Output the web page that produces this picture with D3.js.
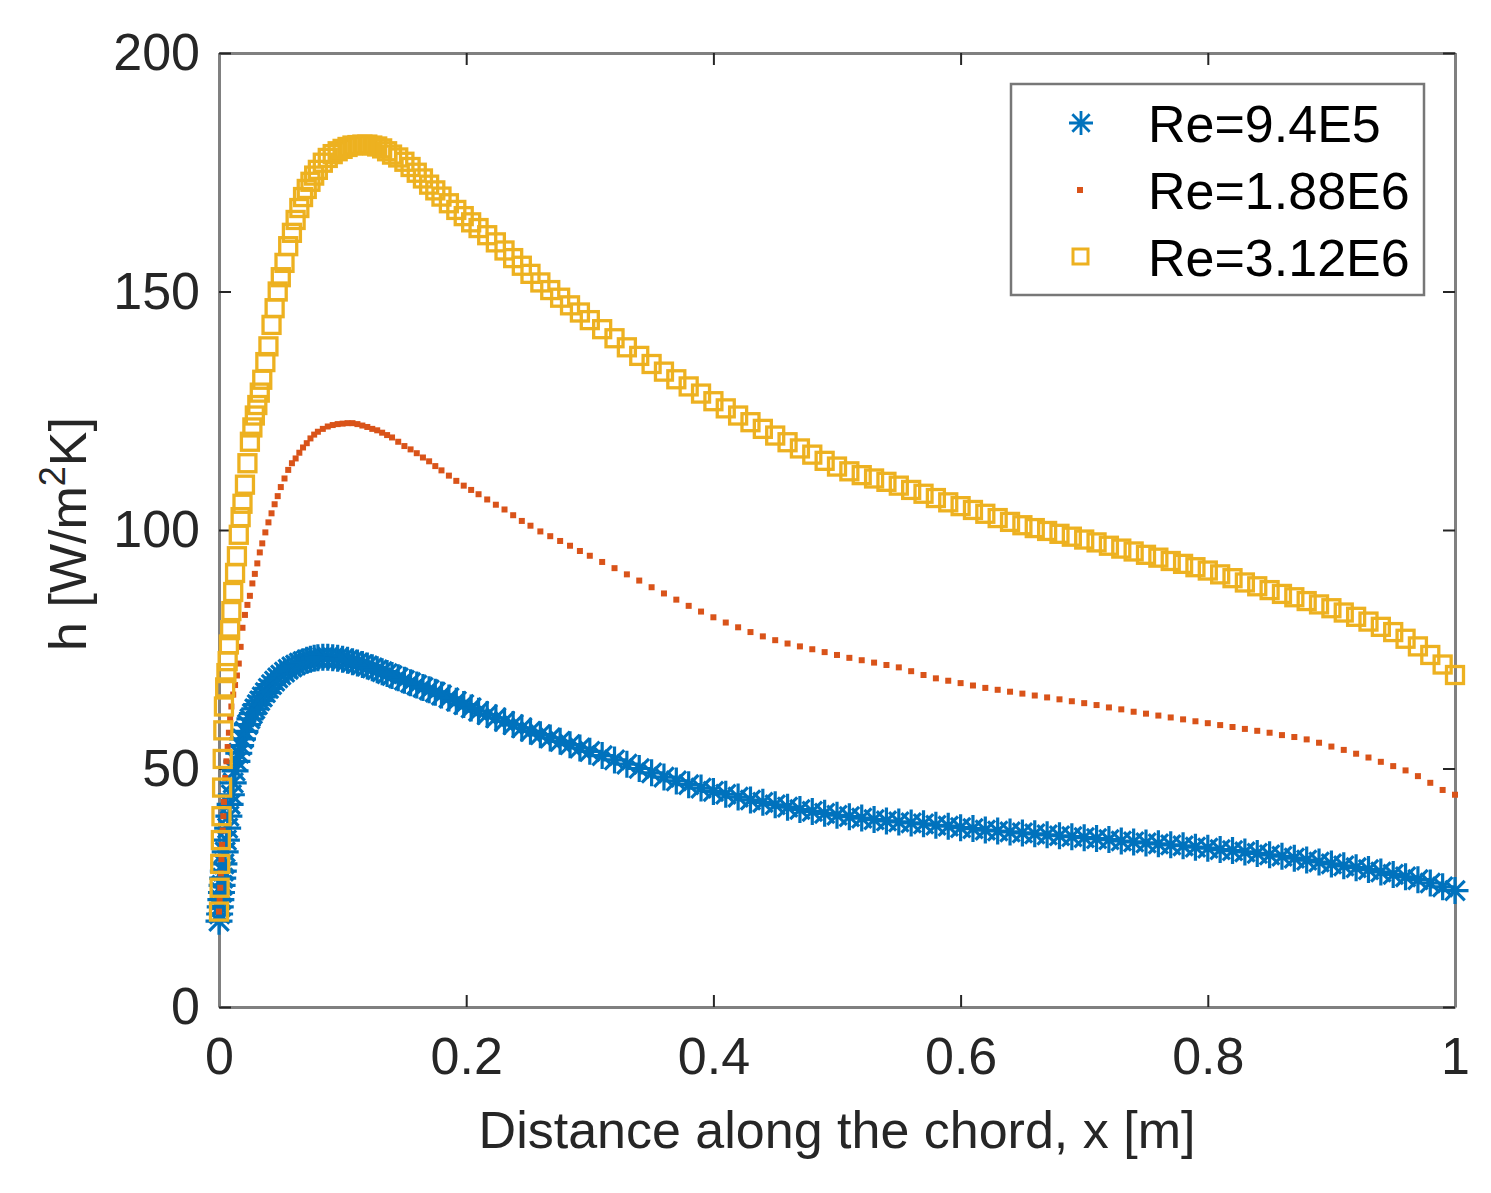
<!DOCTYPE html>
<html>
<head>
<meta charset="utf-8">
<script src="https://cdn.jsdelivr.net/npm/d3@7"></script>
<style>
body { margin: 0; background: #fff; }
</style>
</head>
<body>
<script>
// chordwise positions shared by the three runs (clustered at the leading edge)
var chordX = [
  0, 0.0005, 0.001, 0.0015, 0.002, 0.0025, 0.003, 0.0035, 0.004, 0.005,
  0.006, 0.007, 0.008, 0.009, 0.010, 0.0115, 0.013, 0.0145, 0.016, 0.0175,
  0.019, 0.021, 0.023, 0.025, 0.027, 0.029, 0.031, 0.033, 0.035, 0.0375,
  0.040, 0.0425, 0.045, 0.0475, 0.050, 0.053, 0.056, 0.059, 0.062, 0.065,
  0.068, 0.071, 0.074, 0.077, 0.080, 0.084, 0.088, 0.092, 0.096, 0.100,
  0.104, 0.108, 0.112, 0.116, 0.120, 0.124, 0.128, 0.132, 0.136, 0.140,
  0.145, 0.150, 0.155, 0.160, 0.165, 0.170, 0.175, 0.180, 0.186, 0.192,
  0.198, 0.204, 0.210, 0.217, 0.224, 0.231, 0.238, 0.245, 0.252, 0.260,
  0.268, 0.276, 0.284, 0.292, 0.300, 0.310, 0.320, 0.330, 0.340, 0.350,
  0.36, 0.37, 0.38, 0.39, 0.40, 0.41, 0.42, 0.43, 0.44, 0.45,
  0.46, 0.47, 0.48, 0.49, 0.50, 0.51, 0.52, 0.53, 0.54, 0.55,
  0.56, 0.57, 0.58, 0.59, 0.60, 0.61, 0.62, 0.63, 0.64, 0.65,
  0.66, 0.67, 0.68, 0.69, 0.70, 0.71, 0.72, 0.73, 0.74, 0.75,
  0.76, 0.77, 0.78, 0.79, 0.80, 0.81, 0.82, 0.83, 0.84, 0.85,
  0.86, 0.87, 0.88, 0.89, 0.90, 0.91, 0.92, 0.93, 0.94, 0.95,
  0.96, 0.97, 0.98, 0.99, 1.00
];

// h [W/m2K], Re = 9.4E5
var hRe940k = [
  18.0, 19.5, 21.0, 22.5, 24.0, 25.5, 27.0, 28.5, 30.0, 32.5,
  35.0, 37.5, 40.0, 42.5, 44.5, 47.0, 49.5, 51.5, 53.2, 54.8,
  56.2, 57.8, 59.2, 60.4, 61.5, 62.5, 63.4, 64.2, 65.0, 65.9,
  66.8, 67.6, 68.3, 69.0, 69.6, 70.2, 70.8, 71.3, 71.7, 72.1,
  72.4, 72.7, 72.9, 73.1, 73.2, 73.3, 73.3, 73.2, 73.1, 72.9,
  72.7, 72.4, 72.1, 71.8, 71.5, 71.1, 70.7, 70.3, 69.9, 69.5,
  69.0, 68.5, 68.0, 67.5, 67.0, 66.5, 66.0, 65.4, 64.8, 64.1,
  63.4, 62.7, 62.0, 61.3, 60.6, 59.9, 59.2, 58.5, 57.8, 57.1,
  56.4, 55.7, 55.0, 54.3, 53.6, 52.7, 51.8, 50.9, 50.0, 49.1,
  48.2, 47.4, 46.6, 45.9, 45.2, 44.6, 44.0, 43.4, 42.9, 42.4,
  41.9, 41.4, 41.0, 40.6, 40.2, 39.9, 39.6, 39.3, 39.0, 38.8,
  38.6, 38.4, 38.1, 37.9, 37.6, 37.4, 37.1, 36.9, 36.7, 36.5,
  36.3, 36.1, 35.9, 35.7, 35.5, 35.3, 35.1, 34.8, 34.6, 34.4,
  34.2, 34.0, 33.8, 33.5, 33.3, 33.0, 32.8, 32.5, 32.2, 31.9,
  31.6, 31.2, 30.8, 30.4, 30.0, 29.6, 29.2, 28.8, 28.3, 27.8,
  27.3, 26.7, 26.0, 25.2, 24.4
];

// h [W/m2K], Re = 1.88E6
var hRe188M = [
  20.0, 22.5, 25.0, 28.0, 31.0, 34.0, 37.0, 40.0, 43.0, 48.0,
  51.5, 54.5, 57.5, 60.5, 63.0, 65.5, 67.5, 69.5, 72.0, 75.5,
  79.5, 82.2, 84.3, 86.2, 88.8, 90.8, 93.0, 95.3, 97.2, 99.5,
  101.6, 103.5, 105.4, 107.1, 109.0, 110.8, 112.6, 114.0, 115.0, 116.2,
  117.3, 118.2, 119.2, 120.0, 120.6, 121.2, 121.7, 122.0, 122.2, 122.3,
  122.4, 122.4, 122.2, 121.9, 121.6, 121.2, 120.9, 120.4, 119.9, 119.4,
  118.5, 117.6, 116.9, 116.1, 115.2, 114.4, 113.4, 112.5, 111.4, 110.3,
  109.3, 108.4, 107.5, 106.4, 105.3, 104.3, 103.1, 101.9, 100.9, 99.7,
  98.7, 97.7, 96.7, 95.6, 94.6, 93.3, 92.0, 90.7, 89.4, 88.0,
  86.7, 85.4, 84.1, 82.9, 81.7, 80.6, 79.6, 78.6, 77.7, 76.9,
  76.2, 75.6, 75.0, 74.4, 73.8, 73.2, 72.7, 72.2, 71.7, 71.2,
  70.4, 69.6, 68.9, 68.4, 67.9, 67.4, 66.9, 66.5, 66.1, 65.7,
  65.3, 64.9, 64.5, 64.1, 63.7, 63.3, 62.8, 62.4, 61.9, 61.5,
  61.1, 60.7, 60.3, 59.9, 59.5, 59.1, 58.7, 58.3, 57.9, 57.5,
  57.0, 56.6, 56.1, 55.4, 54.6, 53.9, 53.1, 52.3, 51.4, 50.5,
  49.6, 48.4, 47.0, 45.5, 44.5
];

// h [W/m2K], Re = 3.12E6
var hRe312M = [
  20.0, 25.0, 30.0, 35.0, 40.0, 46.0, 52.0, 58.0, 63.0, 67.0,
  70.0, 72.5, 76.0, 79.0, 83.0, 87.0, 91.0, 94.5, 99.0, 102.7,
  105.5, 109.5, 114.0, 118.5, 121.5, 124.0, 126.2, 128.8, 131.5, 135.2,
  138.5, 143.0, 146.5, 150.0, 153.0, 156.0, 159.5, 162.3, 165.0, 167.5,
  169.8, 171.5, 173.0, 174.3, 175.5, 177.0, 178.0, 178.8, 179.4, 179.9,
  180.3, 180.6, 180.7, 180.8, 180.8, 180.6, 180.4, 180.0, 179.4, 178.7,
  178.1, 177.2, 176.1, 174.9, 173.7, 172.4, 171.2, 169.9, 168.5, 167.1,
  165.8, 164.5, 163.3, 161.8, 160.3, 158.6, 157.0, 155.4, 153.7, 151.9,
  150.3, 148.7, 147.1, 145.6, 144.0, 142.1, 140.2, 138.3, 136.5, 134.8,
  133.2, 131.6, 130.1, 128.6, 127.0, 125.5, 124.0, 122.6, 121.2, 119.8,
  118.4, 117.1, 115.8, 114.5, 113.3, 112.3, 111.5, 110.8, 110.1, 109.3,
  108.4, 107.6, 106.7, 105.8, 105.0, 104.2, 103.4, 102.5, 101.7, 101.0,
  100.4, 99.8, 99.2, 98.6, 98.0, 97.4, 96.7, 96.1, 95.5, 94.8,
  94.2, 93.5, 92.9, 92.2, 91.5, 90.7, 89.9, 89.0, 88.2, 87.4,
  86.6, 85.9, 85.1, 84.4, 83.6, 82.7, 81.8, 80.8, 79.7, 78.6,
  77.2, 75.6, 73.8, 71.8, 69.6
];

var xTicks = [0, 0.2, 0.4, 0.6, 0.8, 1];
var yTicks = [0, 50, 100, 150, 200];
var seriesNames = ["Re=9.4E5", "Re=1.88E6", "Re=3.12E6"];
var seriesColors = ["#0072BD", "#D95319", "#EDB120"];

var width = 1491;
var height = 1193;
var plotLeft = 219, plotRight = 1455, plotTop = 53, plotBottom = 1007;
var fontFam = '"Liberation Sans", Arial, Helvetica, sans-serif';

var svg = d3.select("body")
  .append("svg")
  .attr("width", width)
  .attr("height", height)
  .style("font-family", fontFam);

var x = d3.scaleLinear().domain([0, 1]).range([plotLeft, plotRight]);
var y = d3.scaleLinear().domain([0, 200]).range([plotBottom, plotTop]);

function styleAxis(g, showLabels) {
  g.attr("font-size", 52).attr("font-family", fontFam);
  g.select(".domain").attr("stroke", "#808080").attr("stroke-width", 3);
  g.selectAll(".tick line").attr("stroke", "#262626").attr("stroke-width", 2);
  g.selectAll(".tick text").attr("fill", "#262626");
  if (!showLabels) g.selectAll(".tick text").remove();
}

// axes (drawn under the data, like MATLAB's default layer)
svg.append("g")
  .attr("transform", "translate(0," + plotBottom + ")")
  .call(d3.axisBottom(x).tickValues(xTicks).tickFormat(d3.format("")).tickSizeInner(-12).tickSizeOuter(0).tickPadding(30))
  .call(styleAxis, true);
svg.append("g")
  .attr("transform", "translate(0," + plotTop + ")")
  .call(d3.axisTop(x).tickValues(xTicks).tickSizeInner(-12).tickSizeOuter(0))
  .call(styleAxis, false);
svg.append("g")
  .attr("transform", "translate(" + plotLeft + ",0)")
  .call(d3.axisLeft(y).tickValues(yTicks).tickFormat(d3.format("")).tickSizeInner(-12).tickSizeOuter(0).tickPadding(19))
  .call(styleAxis, true);
svg.append("g")
  .attr("transform", "translate(" + plotRight + ",0)")
  .call(d3.axisRight(y).tickValues(yTicks).tickSizeInner(-12).tickSizeOuter(0))
  .call(styleAxis, false);

// axis titles
svg.append("text")
  .attr("x", (plotLeft + plotRight) / 2)
  .attr("y", 1148)
  .attr("text-anchor", "middle")
  .attr("font-size", 52)
  .attr("fill", "#262626")
  .text("Distance along the chord, x [m]");

var yLab = svg.append("text")
  .attr("transform", "translate(86," + ((plotTop + plotBottom) / 2 + 4) + ") rotate(-90)")
  .attr("text-anchor", "middle")
  .attr("font-size", 52)
  .attr("fill", "#262626");
yLab.append("tspan").text("h [W/m");
yLab.append("tspan").attr("font-size", 36).attr("dy", -21).text("2");
yLab.append("tspan").attr("dy", 21).text("K]");

// marker shapes
function starPath(r) {
  var d = r * 0.72;
  return "M" + (-r) + ",0H" + r + "M0," + (-r) + "V" + r +
    "M" + (-d) + "," + (-d) + "L" + d + "," + d +
    "M" + (-d) + "," + d + "L" + d + "," + (-d);
}

var blueData = chordX.map(function (v, i) { return { x: v, h: hRe940k[i] }; });
var orangeData = chordX.map(function (v, i) { return { x: v, h: hRe188M[i] }; });
var yellowData = chordX.map(function (v, i) { return { x: v, h: hRe312M[i] }; });

svg.append("g").selectAll("path")
  .data(blueData)
  .enter()
  .append("path")
  .attr("transform", function (d) { return "translate(" + x(d.x) + "," + y(d.h) + ")"; })
  .attr("d", starPath(13.5))
  .attr("fill", "none")
  .attr("stroke", seriesColors[0])
  .attr("stroke-width", 3.2);

svg.append("g").selectAll("rect")
  .data(orangeData)
  .enter()
  .append("rect")
  .attr("x", function (d) { return x(d.x) - 3; })
  .attr("y", function (d) { return y(d.h) - 3; })
  .attr("width", 6)
  .attr("height", 6)
  .attr("fill", seriesColors[1]);

svg.append("g").selectAll("rect")
  .data(yellowData)
  .enter()
  .append("rect")
  .attr("x", function (d) { return x(d.x) - 8.5; })
  .attr("y", function (d) { return y(d.h) - 8.5; })
  .attr("width", 17)
  .attr("height", 17)
  .attr("fill", "none")
  .attr("stroke", seriesColors[2])
  .attr("stroke-width", 3.3);

// legend
var legend = svg.append("g");
legend.append("rect")
  .attr("x", 1011).attr("y", 84)
  .attr("width", 413).attr("height", 211)
  .attr("fill", "#fff")
  .attr("stroke", "#777")
  .attr("stroke-width", 2.5);

var rowY = [123, 190, 257];
legend.append("path")
  .attr("transform", "translate(1081," + rowY[0] + ")")
  .attr("d", starPath(12))
  .attr("fill", "none")
  .attr("stroke", seriesColors[0])
  .attr("stroke-width", 2.8);
legend.append("rect")
  .attr("x", 1077).attr("y", rowY[1] - 3)
  .attr("width", 6).attr("height", 6)
  .attr("fill", seriesColors[1]);
legend.append("rect")
  .attr("x", 1073).attr("y", rowY[2] - 8)
  .attr("width", 15).attr("height", 15)
  .attr("fill", "none")
  .attr("stroke", seriesColors[2])
  .attr("stroke-width", 3);

legend.selectAll("text.lab")
  .data(seriesNames)
  .enter()
  .append("text")
  .attr("class", "lab")
  .attr("x", 1148)
  .attr("y", function (d, i) { return rowY[i] + 19; })
  .attr("font-size", 52)
  .attr("fill", "#000")
  .text(function (d) { return d; });
</script>
</body>
</html>
